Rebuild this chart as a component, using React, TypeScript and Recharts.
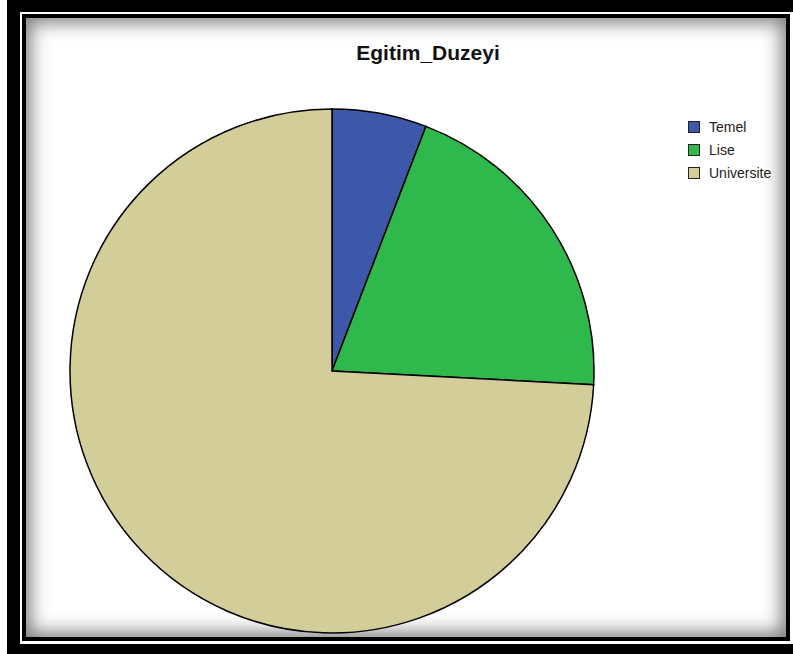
import { PieChart, Pie, Cell } from "recharts";

const categories = ["Temel", "Lise", "Universite"];
const counts = [7, 24, 89];
const colors = ["#3d58a8", "#2fb84c", "#d3cd99"];

const data = categories.map((name, i) => ({ name, value: counts[i] }));

export default function App() {
    return (
        <div style={{ position: "absolute", left: 0, top: 0, width: 793, height: 654, overflow: "hidden", background: "#fff", fontFamily: "'Liberation Sans', Arial, sans-serif" }}>
            {/* outer black frame */}
            <div style={{ position: "absolute", left: 7, top: -20, width: 820, height: 684, background: "#000" }} />
            {/* white gap */}
            <div style={{ position: "absolute", left: 20, top: 12, width: 773, height: 632, background: "#fff" }} />
            {/* inner frame with shadow */}
            <div
                style={{
                    position: "absolute",
                    left: 22,
                    top: 14,
                    width: 768,
                    height: 627,
                    boxSizing: "border-box",
                    border: "4px solid #000",
                    background: "#fff",
                    boxShadow: "inset 0 0 18px 5px rgba(0,0,0,0.5)",
                }}
            />
            <div style={{ position: "absolute", left: 0, top: 41, width: 856, textAlign: "center", fontSize: 21, fontWeight: "bold", color: "#111" }}>
                Egitim_Duzeyi
            </div>
            <div style={{ position: "absolute", left: 0, top: 0 }}>
                <PieChart width={793} height={654} margin={{ top: 0, right: 0, bottom: 0, left: 0 }}>
                    <Pie
                        data={data}
                        dataKey="value"
                        nameKey="name"
                        cx={332}
                        cy={371}
                        outerRadius={262}
                        startAngle={90}
                        endAngle={-270}
                        stroke="#000"
                        strokeWidth={1.5}
                        isAnimationActive={false}
                    >
                        {data.map((d, i) => (
                            <Cell key={d.name} fill={colors[i]} />
                        ))}
                    </Pie>
                </PieChart>
            </div>
            {/* legend */}
            {categories.map((name, i) => (
                <div key={name} style={{ position: "absolute", left: 688, top: 120 + i * 23, height: 14, display: "flex", alignItems: "center" }}>
                    <div style={{ width: 10, height: 10, background: colors[i], border: "1px solid #222" }} />
                    <span style={{ marginLeft: 9, fontSize: 14, color: "#222" }}>{name}</span>
                </div>
            ))}
        </div>
    );
}
